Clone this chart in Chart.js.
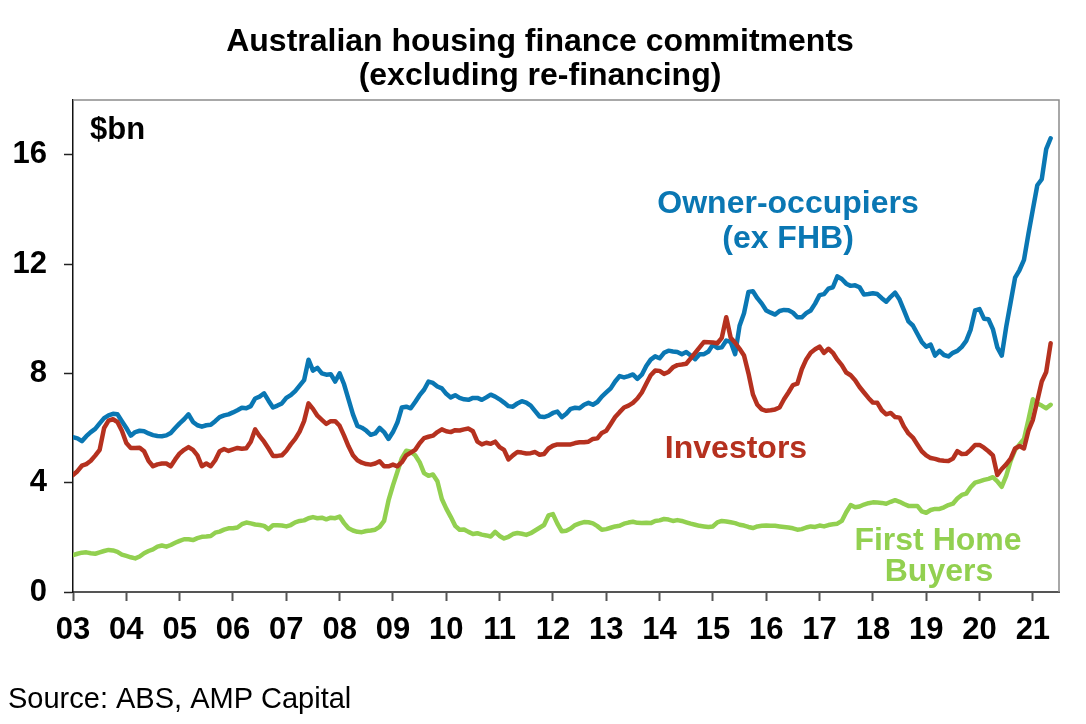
<!DOCTYPE html>
<html>
<head>
<meta charset="utf-8">
<style>
  html, body { margin: 0; padding: 0; background: #fff; }
  canvas { display: block; }
</style>
<script src="https://cdn.jsdelivr.net/npm/chart.js@4.4.1/dist/chart.umd.min.js"></script>
</head>
<body>
<canvas id="c" width="1086" height="724"></canvas>
<script>
const startYear = 2003;
const yearLabels = ['03','04','05','06','07','08','09','10','11','12','13','14','15','16','17','18','19','20','21'];
const yTicks = [0, 4, 8, 12, 16];

// Monthly values, Jan 2003 - May 2021 ($bn)
const ownerOccupiers = [
  5.66,5.62,5.52,5.70,5.85,5.97,6.17,6.36,6.46,6.52,6.50,6.25,
  6.00,5.72,5.85,5.90,5.88,5.80,5.74,5.71,5.70,5.73,5.82,6.00,
  6.17,6.32,6.50,6.22,6.10,6.05,6.10,6.12,6.25,6.40,6.46,6.50,
  6.57,6.65,6.74,6.72,6.80,7.08,7.15,7.27,7.00,6.75,6.82,6.90,
  7.10,7.20,7.35,7.55,7.75,8.50,8.10,8.20,8.00,7.95,7.97,7.70,
  8.00,7.60,7.05,6.50,6.08,6.01,5.90,5.75,5.80,6.00,5.85,5.60,
  5.85,6.20,6.75,6.78,6.72,6.95,7.20,7.40,7.70,7.65,7.52,7.45,
  7.25,7.12,7.20,7.10,7.05,7.03,7.10,7.10,7.03,7.12,7.22,7.15,
  7.05,6.93,6.80,6.78,6.90,6.98,6.93,6.82,6.62,6.42,6.40,6.45,
  6.55,6.60,6.40,6.52,6.70,6.74,6.72,6.85,6.92,6.85,6.95,7.15,
  7.30,7.45,7.70,7.90,7.85,7.90,7.96,7.80,7.95,8.27,8.50,8.62,
  8.55,8.75,8.83,8.80,8.78,8.70,8.78,8.65,8.52,8.70,8.70,8.80,
  9.05,8.93,8.95,9.20,9.15,8.70,9.74,10.20,10.98,11.00,10.75,10.55,
  10.30,10.22,10.15,10.28,10.32,10.31,10.22,10.05,10.05,10.20,10.30,10.55,
  10.86,10.90,11.10,11.15,11.55,11.45,11.28,11.20,11.22,11.15,10.88,10.90,
  10.93,10.90,10.75,10.62,10.80,10.95,10.70,10.30,9.90,9.75,9.45,9.15,
  8.97,9.05,8.65,8.82,8.67,8.62,8.75,8.82,8.97,9.19,9.60,10.30,
  10.35,10.00,9.98,9.62,8.95,8.65,9.70,10.60,11.50,11.78,12.15,13.10,
  14.00,14.88,15.10,16.20,16.60
];
const investors = [
  4.28,4.42,4.62,4.68,4.80,4.99,5.20,6.00,6.27,6.32,6.22,5.90,
  5.45,5.27,5.27,5.28,5.15,4.80,4.60,4.67,4.70,4.70,4.60,4.85,
  5.07,5.20,5.30,5.20,5.00,4.60,4.70,4.60,4.82,5.15,5.23,5.16,
  5.22,5.27,5.24,5.26,5.50,5.95,5.70,5.50,5.25,4.98,4.98,5.00,
  5.17,5.40,5.60,5.87,6.25,6.90,6.70,6.45,6.30,6.15,6.25,6.25,
  6.08,5.72,5.33,5.00,4.82,4.73,4.68,4.66,4.70,4.78,4.60,4.60,
  4.66,4.60,4.75,5.00,5.10,5.20,5.44,5.63,5.68,5.72,5.85,5.95,
  5.88,5.85,5.92,5.91,5.95,5.98,5.88,5.50,5.40,5.46,5.42,5.50,
  5.30,5.20,4.85,5.00,5.12,5.10,5.07,5.08,5.12,5.02,5.05,5.25,
  5.35,5.40,5.40,5.40,5.40,5.45,5.48,5.48,5.50,5.60,5.62,5.82,
  5.90,6.15,6.40,6.58,6.75,6.82,6.92,7.08,7.30,7.62,7.93,8.10,
  8.09,7.98,8.05,8.22,8.30,8.32,8.35,8.55,8.75,8.95,9.15,9.14,
  9.13,9.10,9.30,10.05,9.30,9.12,8.90,8.65,8.00,7.23,6.85,6.68,
  6.63,6.65,6.68,6.75,7.05,7.30,7.57,7.62,8.15,8.51,8.75,8.88,
  8.98,8.75,8.90,8.75,8.50,8.30,8.03,7.93,7.75,7.50,7.30,7.10,
  6.93,6.92,6.65,6.50,6.55,6.40,6.38,6.05,5.80,5.65,5.40,5.15,
  5.00,4.90,4.87,4.82,4.80,4.79,4.88,5.15,5.05,5.06,5.20,5.38,
  5.38,5.28,5.15,5.00,4.28,4.50,4.67,4.88,5.25,5.34,5.25,5.90,
  6.30,7.00,7.70,8.05,9.10
];
const firstHomeBuyers = [
  1.35,1.40,1.44,1.45,1.42,1.40,1.45,1.50,1.54,1.52,1.47,1.37,
  1.32,1.27,1.23,1.30,1.42,1.50,1.56,1.66,1.70,1.66,1.72,1.80,
  1.87,1.93,1.93,1.90,1.97,2.02,2.03,2.05,2.17,2.21,2.28,2.33,
  2.33,2.36,2.48,2.54,2.51,2.47,2.45,2.42,2.30,2.44,2.44,2.43,
  2.40,2.45,2.55,2.60,2.62,2.70,2.74,2.70,2.72,2.66,2.72,2.70,
  2.76,2.52,2.33,2.25,2.20,2.19,2.23,2.25,2.28,2.38,2.60,3.35,
  3.90,4.40,4.90,5.17,5.13,5.00,4.75,4.35,4.25,4.30,4.05,3.40,
  3.05,2.75,2.42,2.28,2.29,2.20,2.12,2.15,2.10,2.07,2.03,2.20,
  2.05,1.96,2.02,2.12,2.16,2.13,2.09,2.15,2.25,2.35,2.45,2.80,
  2.85,2.50,2.22,2.24,2.32,2.45,2.51,2.56,2.55,2.51,2.41,2.28,
  2.30,2.35,2.40,2.42,2.50,2.54,2.57,2.53,2.52,2.53,2.52,2.60,
  2.62,2.67,2.65,2.60,2.63,2.60,2.55,2.50,2.46,2.42,2.40,2.38,
  2.40,2.55,2.60,2.58,2.55,2.52,2.46,2.43,2.38,2.34,2.40,2.42,
  2.43,2.42,2.42,2.40,2.38,2.36,2.33,2.28,2.30,2.36,2.40,2.38,
  2.43,2.40,2.45,2.48,2.50,2.60,2.92,3.18,3.10,3.13,3.20,3.25,
  3.28,3.27,3.26,3.23,3.30,3.36,3.30,3.22,3.15,3.15,3.15,2.95,
  2.90,3.00,3.04,3.04,3.10,3.18,3.23,3.42,3.55,3.60,3.83,4.00,
  4.05,4.10,4.14,4.20,4.05,3.85,4.25,4.80,5.20,5.40,5.60,6.30,
  7.05,6.90,6.82,6.72,6.85
];

const FONT = '"Liberation Sans", Arial, Helvetica, sans-serif';
const BLUE = '#0a77b3';
const RED = '#b5311f';
const GREEN = '#92d050';

const toPoints = arr => arr.map((v, i) => ({ x: startYear + i / 12, y: v }));

const decorations = {
  id: 'decorations',
  beforeDatasetsDraw(chart) {
    const { ctx, chartArea: a } = chart;
    ctx.save();
    ctx.strokeStyle = '#8c8c8c';
    ctx.lineWidth = 1.5;
    ctx.beginPath();
    ctx.moveTo(a.left, a.top);
    ctx.lineTo(a.right, a.top);
    ctx.lineTo(a.right, a.bottom);
    ctx.stroke();
    ctx.restore();
  },
  afterDraw(chart) {
    const ctx = chart.ctx;
    ctx.save();
    ctx.textBaseline = 'alphabetic';
    // Title
    ctx.fillStyle = '#000';
    ctx.font = 'bold 32px ' + FONT;
    ctx.textAlign = 'center';
    ctx.fillText('Australian housing finance commitments', 540, 51);
    ctx.fillText('(excluding re-financing)', 540, 85);
    // Unit
    ctx.textAlign = 'left';
    ctx.font = 'bold 31px ' + FONT;
    ctx.fillText('$bn', 90, 139);
    // Series labels
    ctx.font = 'bold 32px ' + FONT;
    ctx.textAlign = 'center';
    ctx.fillStyle = BLUE;
    ctx.fillText('Owner-occupiers', 788, 213);
    ctx.fillText('(ex FHB)', 788, 248);
    ctx.fillStyle = RED;
    ctx.fillText('Investors', 736, 458);
    ctx.fillStyle = GREEN;
    ctx.fillText('First Home', 938, 550);
    ctx.fillText('Buyers', 939, 581);
    // Source
    ctx.fillStyle = '#000';
    ctx.textAlign = 'left';
    ctx.font = '29px ' + FONT;
    ctx.fillText('Source: ABS, AMP Capital', 8, 708);
    ctx.restore();
  }
};

const lineStyle = (label, data, color) => ({
  label,
  data: toPoints(data),
  borderColor: color,
  backgroundColor: color,
  borderWidth: 4.5,
  pointRadius: 0,
  tension: 0,
  fill: false,
  borderJoinStyle: 'round',
  borderCapStyle: 'round'
});

new Chart(document.getElementById('c'), {
  type: 'line',
  data: {
    datasets: [
      lineStyle('Investors', investors, RED),
      lineStyle('First Home Buyers', firstHomeBuyers, GREEN),
      lineStyle('Owner-occupiers (ex FHB)', ownerOccupiers, BLUE)
    ]
  },
  options: {
    responsive: false,
    animation: false,
    devicePixelRatio: 1,
    layout: { padding: { top: 100, right: 27, bottom: 72, left: 0 } },
    plugins: { legend: { display: false }, title: { display: false }, tooltip: { enabled: false } },
    scales: {
      x: {
        type: 'linear',
        min: 2003,
        max: 2021.49,
        afterBuildTicks: s => { s.ticks = yearLabels.map((_, i) => ({ value: startYear + i })); },
        afterFit: s => { s.height = 60; },
        ticks: {
          autoSkip: false,
          maxRotation: 0,
          minRotation: 0,
          padding: 11,
          color: '#000',
          font: { family: FONT, size: 31, weight: 'bold' },
          callback: v => yearLabels[Math.round(v - startYear)]
        },
        grid: { drawOnChartArea: false, drawTicks: true, tickLength: 9, tickColor: '#555', tickWidth: 2, color: '#555' },
        border: { display: true, color: '#555', width: 2 }
      },
      y: {
        min: 0,
        max: 18,
        afterBuildTicks: s => { s.ticks = yTicks.map(v => ({ value: v })); },
        afterFit: s => { s.width = 73; },
        ticks: {
          padding: 17,
          color: '#000',
          font: { family: FONT, size: 31, weight: 'bold' },
          callback: v => String(v)
        },
        grid: { drawOnChartArea: false, drawTicks: true, tickLength: 9, tickColor: '#222', tickWidth: 1.5, color: '#222' },
        border: { display: true, color: '#111', width: 1.5 }
      }
    }
  },
  plugins: [decorations]
});
</script>
</body>
</html>
